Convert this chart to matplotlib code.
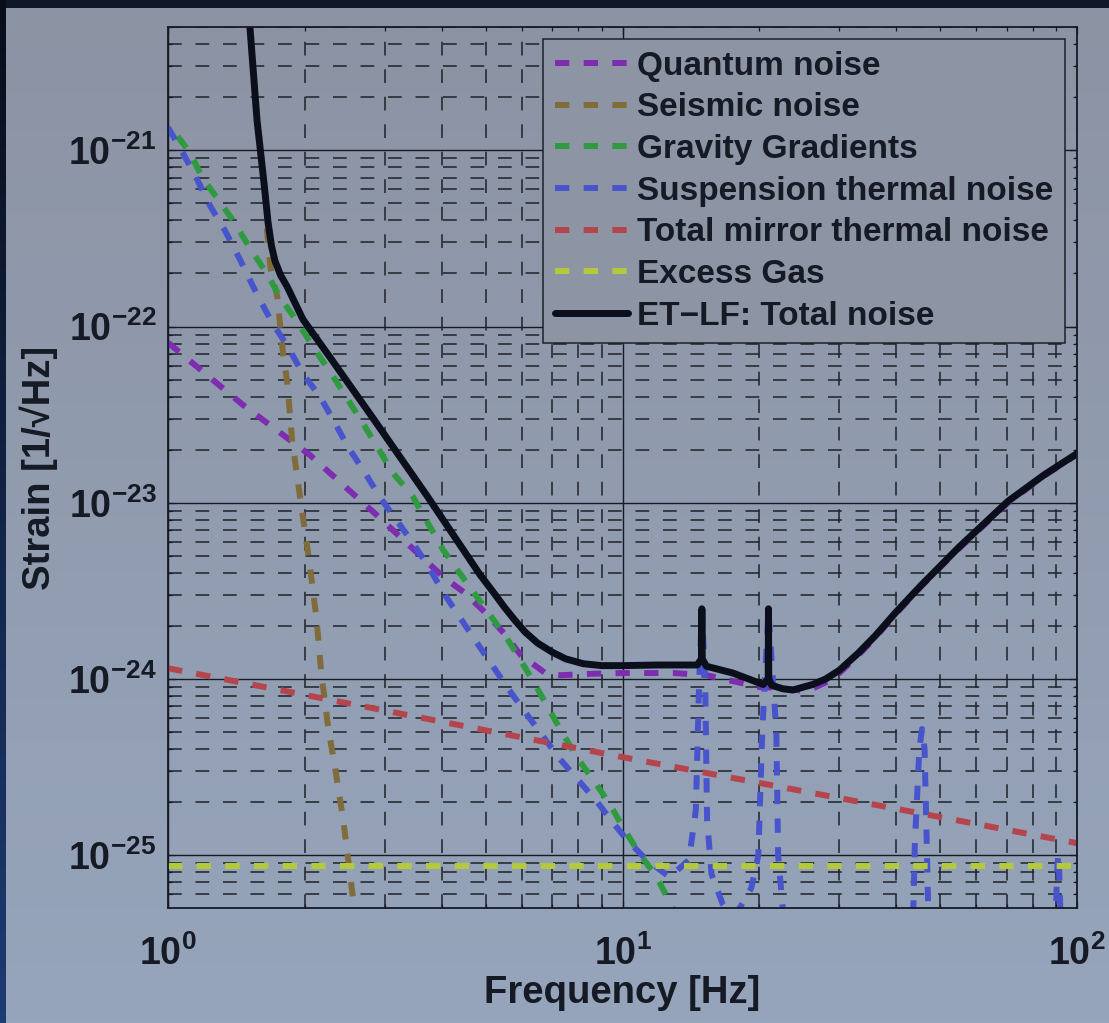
"""
ET-LF noise budget: strain sensitivity vs frequency.
"""
import numpy as np
import matplotlib.pyplot as plt

# ---- data ----------------------------------------------------------------
freq_quantum = [1.0, 1.46, 2.05, 2.88, 4.03, 4.48, 5.0, 5.48, 5.98, 6.8, 7.3,
                8.6, 10.0, 13.0, 15.3, 20.0, 22.2, 25.4, 28.1, 30.0, 33.0,
                36.0, 40.0, 45.4, 55.0, 70.5, 85.0, 100.0]
h_quantum = [8.1e-23, 3.6e-23, 1.87e-23, 8.5e-24, 3.8e-24, 3.1e-24, 2.37e-24,
             1.82e-24, 1.36e-24, 1.07e-24, 1.05e-24, 1.07e-24, 1.08e-24,
             1.08e-24, 1.05e-24, 9.0e-25, 8.9e-25, 8.5e-25, 9.6e-25, 1.08e-24,
             1.36e-24, 1.72e-24, 2.35e-24, 3.35e-24, 5.5e-24, 1.0e-23,
             1.43e-23, 1.88e-23]

freq_seismic = [1.65, 1.68, 1.74, 1.79, 1.83, 1.875, 1.97, 2.04, 2.12,
                2.175, 2.256, 2.32, 2.43, 2.56, 2.62]
h_seismic = [3.6e-22, 2.17e-22, 1.47e-22, 7.1e-23, 4.8e-23, 2.27e-23,
             9.1e-24, 4.9e-24, 2.25e-24, 1.07e-24, 5.1e-25, 3.4e-25,
             1.58e-25, 5.4e-26, 4.0e-26]

freq_gg = [1.05, 1.118, 1.19, 1.30, 1.40, 1.515, 1.65, 1.78, 1.93, 2.09, 2.31,
           2.69, 3.13, 3.46, 4.03, 4.38, 5.57, 6.32, 7.29, 7.93, 8.6, 9.4,
           10.0, 10.9, 11.9, 12.9, 13.3]
h_gg = [1.2e-21, 9.7e-22, 7.0e-22, 5.1e-22, 3.9e-22, 2.78e-22, 2.0e-22,
        1.41e-22, 1.06e-22, 7.6e-23, 5.2e-23, 2.8e-23, 1.47e-23, 1.08e-23,
        5.4e-24, 4.0e-24, 1.7e-24, 1.0e-24, 5.2e-25, 3.6e-25, 2.7e-25,
        1.93e-25, 1.45e-25, 1.02e-25, 7.5e-26, 5.0e-26, 4.3e-26]

freq_susp = [1.0, 1.08, 1.16, 1.24, 1.335, 1.44, 1.58, 1.70, 1.84, 1.98, 2.16,
             2.31, 2.49, 2.69, 2.93, 3.19, 3.46, 3.77, 4.03, 4.74, 5.57, 6.5,
             7.29, 8.06, 8.8, 9.4, 10.2, 11.3, 12.7, 14.0, 14.5, 14.75, 14.95,
             15.2, 15.35, 15.7, 16.6, 17.3, 18.1, 19.2, 19.9, 20.3, 20.95,
             21.8, 22.0, 22.6, 43.6, 44.0, 45.0, 45.6, 46.2, 46.7, 47.1, 89.8,
             90.4, 90.9, 91.4, 92.0, 100.0]
h_susp = [1.35e-21, 9.6e-22, 6.8e-22, 4.8e-22, 3.5e-22, 2.4e-22, 1.47e-22,
          1.04e-22, 7.6e-23, 5.4e-23, 4.0e-23, 2.95e-23, 2.07e-23, 1.53e-23,
          1.07e-23, 7.9e-24, 5.9e-24, 4.2e-24, 3.1e-24, 1.66e-24, 9.0e-25,
          5.2e-25, 3.5e-25, 2.6e-25, 2.0e-25, 1.6e-25, 1.23e-25, 9.4e-26,
          7.5e-26, 9.4e-26, 1.8e-25, 1.0e-24, 2.4e-24, 1.0e-24, 1.6e-25,
          7.8e-26, 5.3e-26, 4.6e-26, 5.0e-26, 6.5e-26, 1.0e-25, 5.0e-25,
          2.4e-24, 5.0e-25, 1.0e-25, 4.5e-26, 4.5e-26, 1.2e-25, 4.0e-25,
          5.2e-25, 4.0e-25, 1.2e-25, 4.5e-26, 4.5e-26, 8.0e-26, 1.0e-25,
          8.0e-26, 4.5e-26, 4.5e-26]

freq_mirror = [1.0, 1.87, 4.03, 10.0, 46.7, 100.0]
h_mirror = [1.15e-24, 8.4e-25, 5.7e-25, 3.6e-25, 1.7e-25, 1.17e-25]

freq_gas = [1.0, 100.0]
h_gas = [8.7e-26, 8.7e-26]

freq_total = [1.515, 1.57, 1.63, 1.66, 1.69, 1.72, 1.77, 1.83, 1.98, 2.31,
              2.83, 3.71, 4.86, 5.2, 5.5, 5.8, 6.1, 6.5, 7.0, 7.5, 8.2, 9.0,
              10.0, 12.0, 14.6, 14.92, 14.95, 14.98, 15.3, 17.5, 20.4, 20.92,
              20.95, 20.98, 21.3, 22.5, 23.7, 26.2, 28.0, 30.0, 33.0, 36.0,
              40.0, 45.4, 55.0, 70.5, 85.0, 100.0]
h_total = [4.95e-21, 1.48e-21, 6.2e-22, 3.9e-22, 2.85e-22, 2.35e-22,
           1.95e-22, 1.68e-22, 1.1e-22, 6.3e-23, 3.0e-23, 1.1e-23, 3.9e-24,
           3.1e-24, 2.55e-24, 2.15e-24, 1.85e-24, 1.6e-24, 1.42e-24, 1.3e-24,
           1.22e-24, 1.19e-24, 1.19e-24, 1.2e-24, 1.2e-24, 1.3e-24, 2.5e-24,
           1.3e-24, 1.18e-24, 1.08e-24, 9.3e-25, 1.0e-24, 2.5e-24, 1.0e-24,
           9.2e-25, 8.8e-25, 8.65e-25, 9.3e-25, 1.0e-24, 1.12e-24, 1.4e-24,
           1.76e-24, 2.4e-24, 3.4e-24, 5.6e-24, 1.02e-23, 1.45e-23, 1.9e-23]

labels = ['Quantum noise', 'Seismic noise', 'Gravity Gradients',
          'Suspension thermal noise', 'Total mirror thermal noise',
          'Excess Gas', 'ET\u2212LF: Total noise']

xtick_values = [1, 10, 100]
xtick_labels = ['$10^{0}$', '$10^{1}$', '$10^{2}$']
ytick_values = [1e-25, 1e-24, 1e-23, 1e-22, 1e-21]
ytick_labels = ['$10^{-25}$', '$10^{-24}$', '$10^{-23}$', '$10^{-22}$',
                '$10^{-21}$']

# ---- style -----------------------------------------------------------------
plt.rcParams['font.family'] = ['Liberation Sans', 'DejaVu Sans']
plt.rcParams['font.weight'] = 'bold'
plt.rcParams['mathtext.fontset'] = 'custom'
plt.rcParams['mathtext.rm'] = 'Liberation Sans:bold'
plt.rcParams['mathtext.bf'] = 'Liberation Sans:bold'
plt.rcParams['mathtext.default'] = 'rm'

W, H = 1109, 1023
fig = plt.figure(figsize=(W / 100, H / 100), dpi=100, facecolor='#0f1829')

# photo-like background: light grey-blue field, dark frame top and left
bg = fig.add_axes([6 / W, 0, 1 - 6 / W, 1 - 8 / H], zorder=-10)
grad = np.linspace(0, 1, 256).reshape(-1, 1)
top_c = np.array([0x8c, 0x93, 0xa3]) / 255
bot_c = np.array([0x96, 0xa5, 0xbc]) / 255
bg.imshow(top_c + grad[..., None] * (bot_c - top_c), aspect='auto')
bg.set_axis_off()

strip = fig.add_axes([0, 0, 6 / W, 1], zorder=-9)
s_top = np.array([0x08, 0x0d, 0x18]) / 255
s_bot = np.array([0x1d, 0x3b, 0x74]) / 255
strip.imshow(s_top + grad[..., None] * (s_bot - s_top), aspect='auto')
strip.set_axis_off()

ax = fig.add_axes([168 / W, 1 - 908 / H, 909 / W, 881 / H])
ax.set_facecolor('none')

dash = (2.4, 2.4)
lw = 4.3
ax.plot(freq_quantum, h_quantum, color='#7e2cb0', lw=lw, dashes=dash,
        dash_capstyle='butt', label=labels[0])
ax.plot(freq_seismic, h_seismic, color='#806b3a', lw=lw, dashes=dash,
        dash_capstyle='butt', label=labels[1])
ax.plot(freq_gg, h_gg, color='#2f9a3f', lw=lw, dashes=dash,
        dash_capstyle='butt', label=labels[2])
ax.plot(freq_susp, h_susp, color='#4754cc', lw=lw, dashes=dash,
        dash_capstyle='butt', label=labels[3])
ax.plot(freq_mirror, h_mirror, color='#b5454c', lw=lw, dashes=dash,
        dash_capstyle='butt', label=labels[4])
ax.plot(freq_gas, h_gas, color='#b4c93b', lw=lw, dashes=dash,
        dash_capstyle='butt', label=labels[5])
ax.plot(freq_total, h_total, color='#0b0f1c', lw=5.0,
        solid_joinstyle='round', solid_capstyle='round', label=labels[6])

ax.set_xscale('log')
ax.set_yscale('log')
ax.set_xlim(1, 100)
ax.set_ylim(10 ** -25.30, 10 ** -20.30)

ax.set_xticks(xtick_values)
ax.set_xticklabels(xtick_labels)
ax.set_yticks(ytick_values)
ax.set_yticklabels(ytick_labels)
ax.tick_params(which='both', direction='in', top=True, right=True,
               colors='#151a24', labelsize=27, width=0.9)
ax.tick_params(which='major', length=5)
ax.tick_params(which='minor', length=3)
ax.tick_params(axis='x', which='major', pad=20)
ax.tick_params(axis='y', which='major', pad=8.5)

ax.grid(which='major', color='#161a22', lw=1.0, ls='-')
ax.grid(which='minor', color='#1e2229', lw=1.1, ls=(0, (9, 9)))
ax.set_axisbelow(True)
for sp in ax.spines.values():
    sp.set_linewidth(1.3)
    sp.set_color('#151a24')

ax.set_xlabel('Frequency [Hz]', fontsize=27.5, fontweight='bold',
              color='#151a24', labelpad=1)
ax.set_ylabel('Strain [1/\u221aHz]', fontsize=27.5, fontweight='bold',
              color='#151a24', labelpad=7)

leg = ax.legend(loc='upper right', fontsize=24, frameon=True, fancybox=False,
                framealpha=1, facecolor='#8d95a5', edgecolor='#1c2028',
                handlelength=2.2, handletextpad=0.27, labelspacing=0.32,
                borderpad=0.35, borderaxespad=0.36)
leg.get_frame().set_linewidth(1.1)
for t in leg.get_texts():
    t.set_color('#151a24')

plt.savefig('out.png', dpi=100, facecolor=fig.get_facecolor())
plt.close()
print("Сохранено: out.png")
